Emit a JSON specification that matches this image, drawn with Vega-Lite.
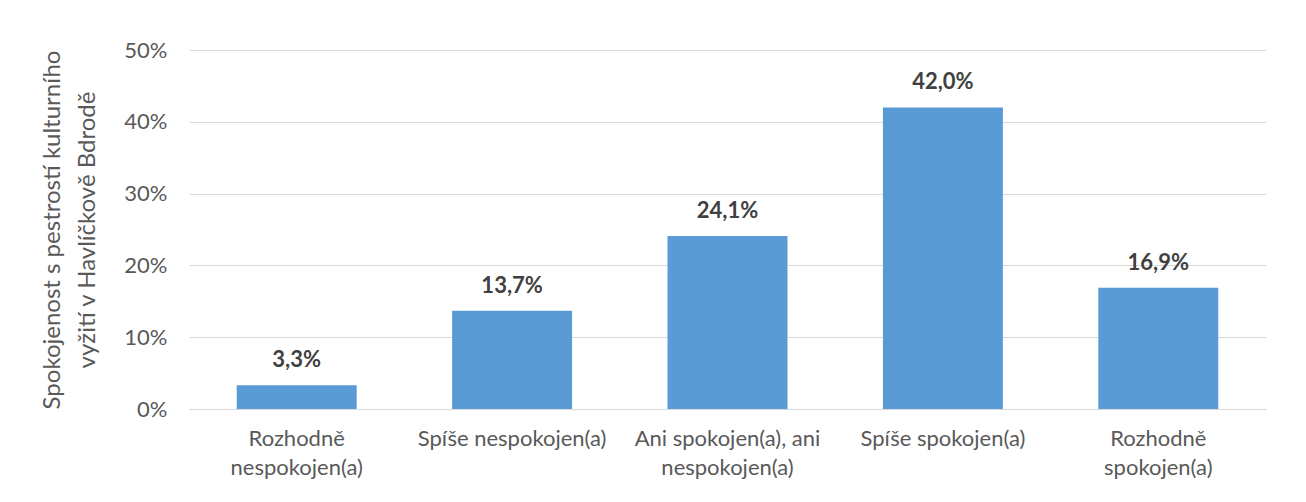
{
  "$schema": "https://vega.github.io/schema/vega-lite/v6.json",
  "width": 1077,
  "height": 359,
  "autosize": {"type": "none"},
  "padding": {"left": 189, "top": 50, "right": 40, "bottom": 93},
  "background": "white",
  "config": {
    "view": {"stroke": null},
    "font": "Lato",
    "locale": {
      "number": {"decimal": ",", "thousands": " ", "grouping": [3], "currency": ["", " Kč"], "percent": "%"}
    }
  },
  "data": {
    "values": [
      {"kategorie": "Rozhodně nespokojen(a)", "podil": 0.033},
      {"kategorie": "Spíše nespokojen(a)", "podil": 0.137},
      {"kategorie": "Ani spokojen(a), ani nespokojen(a)", "podil": 0.241},
      {"kategorie": "Spíše spokojen(a)", "podil": 0.420},
      {"kategorie": "Rozhodně spokojen(a)", "podil": 0.169}
    ]
  },
  "encoding": {
    "x": {
      "field": "kategorie",
      "type": "nominal",
      "sort": null,
      "scale": {"paddingInner": 0.443, "paddingOuter": 0.2215},
      "axis": {
        "title": null,
        "labelAngle": 0,
        "labelColor": "#595959",
        "labelFontSize": 22,
        "labelLineHeight": 29,
        "labelPadding": 19,
        "labelLimit": 400,
        "labelBaseline": "top",
        "labelOverlap": false,
        "ticks": false,
        "domain": true,
        "domainColor": "#d9d9d9",
        "labelExpr": "datum.value == 'Rozhodně nespokojen(a)' ? ['Rozhodně', 'nespokojen(a)'] : datum.value == 'Ani spokojen(a), ani nespokojen(a)' ? ['Ani spokojen(a), ani', 'nespokojen(a)'] : datum.value == 'Rozhodně spokojen(a)' ? ['Rozhodně', 'spokojen(a)'] : datum.value"
      }
    },
    "y": {
      "field": "podil",
      "type": "quantitative",
      "scale": {"domain": [0, 0.5]},
      "axis": {
        "title": ["Spokojenost s pestrostí kulturního", "vyžití v Havlíčkově Bdrodě"],
        "titleFontSize": 24,
        "titleFontWeight": "normal",
        "titleColor": "#595959",
        "titleLineHeight": 35,
        "titlePadding": 24,
        "format": ".0%",
        "values": [0, 0.1, 0.2, 0.3, 0.4, 0.5],
        "labelOverlap": false,
        "labelColor": "#595959",
        "labelFontSize": 22,
        "labelPadding": 22,
        "ticks": false,
        "domain": false,
        "gridColor": "#d9d9d9",
        "gridWidth": 1
      }
    }
  },
  "layer": [
    {"mark": {"type": "bar", "color": "#5b9bd5"}},
    {
      "mark": {"type": "text", "baseline": "alphabetic", "dy": -18, "fontSize": 22, "fontWeight": "bold", "color": "#404040"},
      "encoding": {
        "text": {"field": "podil", "type": "quantitative", "format": ".1%"}
      }
    }
  ]
}
